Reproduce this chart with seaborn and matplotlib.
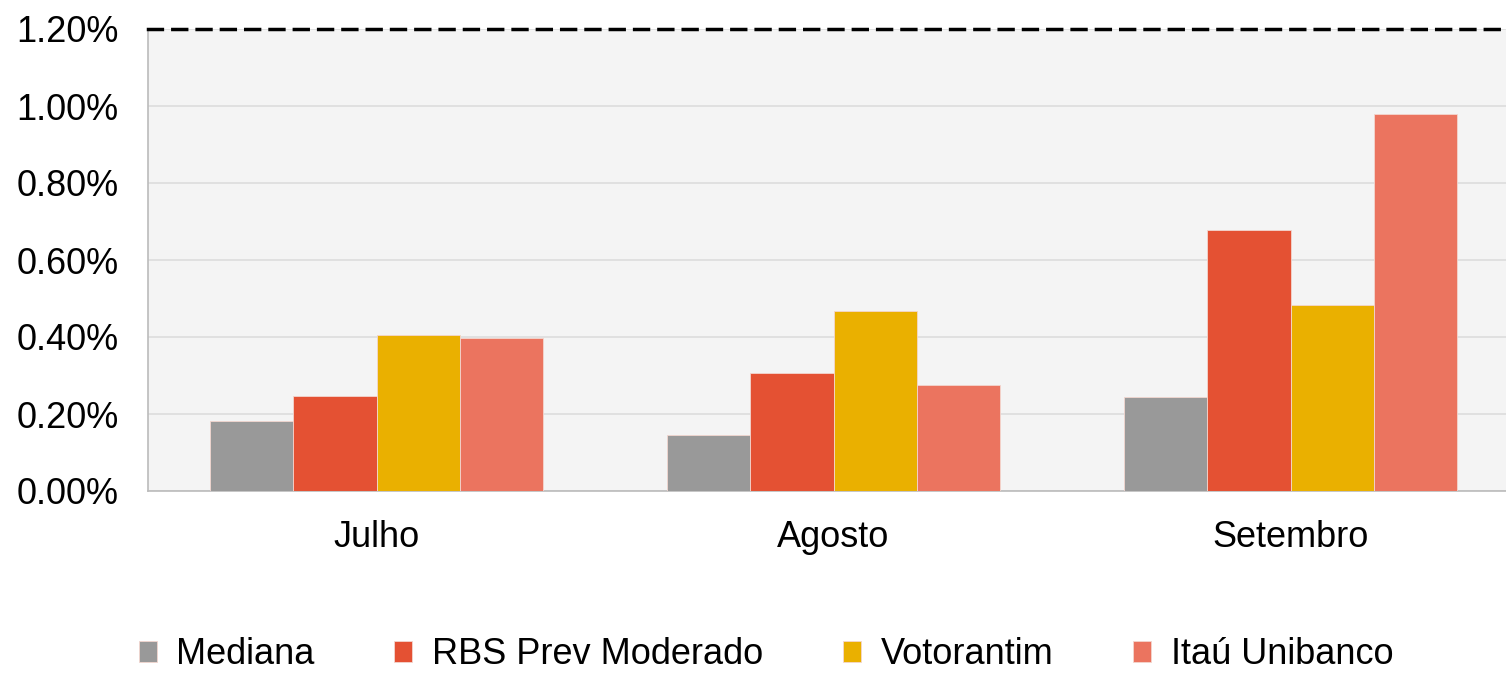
import pandas as pd
import numpy as np
import matplotlib
matplotlib.use("Agg")
import matplotlib.pyplot as plt
import seaborn as sns
from matplotlib.ticker import FuncFormatter

months = ["Julho", "Agosto", "Setembro"]
series = ["Mediana", "RBS Prev Moderado", "Votorantim", "Itaú Unibanco"]
mediana = [0.182, 0.145, 0.244]
rbs = [0.247, 0.306, 0.678]
votorantim = [0.405, 0.467, 0.483]
itau = [0.397, 0.275, 0.979]
colors = ["#999999", "#E45133", "#EAB000", "#EB745F"]

rows = []
for name, vals in zip(series, [mediana, rbs, votorantim, itau]):
    for m, v in zip(months, vals):
        rows.append({"mes": m, "fundo": name, "retorno": v})
df = pd.DataFrame(rows)

sns.set_style("white")
plt.rcParams["font.family"] = ["Liberation Sans", "DejaVu Sans"]
plt.rcParams["text.color"] = "black"
plt.rcParams["xtick.color"] = "black"
plt.rcParams["ytick.color"] = "black"

fig = plt.figure(figsize=(15.06, 6.74), dpi=100)
ax = fig.add_axes([148 / 1506, 183 / 674, 1371 / 1506, 462 / 674])
ax.set_facecolor("#f4f4f4")

sns.barplot(data=df, x="mes", y="retorno", hue="fundo", order=months,
            hue_order=series, palette=colors, saturation=1, width=0.73, gap=0,
            edgecolor="#f3d6cf", linewidth=0.6, ax=ax, zorder=3)

ax.set_xlim(-0.5, 2.5)
ax.set_ylim(0, 1.2)
ax.set_yticks(np.arange(0, 1.21, 0.2))
ax.yaxis.set_major_formatter(FuncFormatter(lambda v, p: f"{v:.2f}%"))
ax.grid(axis="y", color="#dcdcdc", linewidth=1.2, zorder=0)
ax.set_axisbelow(True)

ax.set_xticks([-0.5, 0.5, 1.5, 2.5], minor=True)
ax.tick_params(axis="x", which="major", length=0, pad=21, labelsize=26)
ax.tick_params(axis="x", which="minor", length=7, color="#cccccc", width=1.2)
ax.tick_params(axis="y", length=7, color="#dcdcdc", width=1.2, pad=14,
               labelsize=26, labelcolor="black")
ax.set_xlabel("")
ax.set_ylabel("")

for s in ["left", "bottom"]:
    ax.spines[s].set_color("#bbbbbb")
    ax.spines[s].set_linewidth(1.2)
ax.spines["right"].set_visible(False)
ax.spines["top"].set_color("black")
ax.spines["top"].set_linestyle((0, (4, 3)))
ax.spines["top"].set_linewidth(2.5)

handles, labels = ax.get_legend_handles_labels()
ax.get_legend().remove()
fig.legend(handles, labels, loc="center", bbox_to_anchor=(766 / 1506, 19 / 674), ncol=4,
           frameon=False, fontsize=26, handlelength=0.5, handleheight=0.5,
           handletextpad=0.55, columnspacing=2.2, labelcolor="black",
           borderpad=0, borderaxespad=0)

fig.savefig("out.png", dpi=100)
